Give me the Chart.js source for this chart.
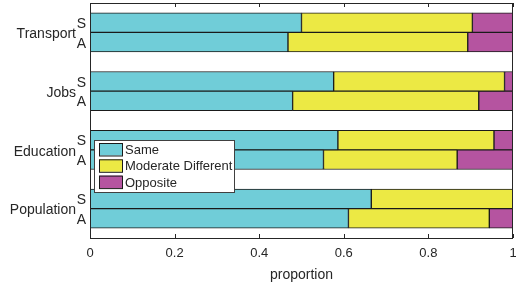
<!DOCTYPE html>
<html>
<head>
<meta charset="utf-8">
<script src="https://cdn.jsdelivr.net/npm/chart.js@4.4.0/dist/chart.umd.min.js"></script>
<style>
  html, body { margin: 0; padding: 0; background: #fff; }
  canvas { display: block; }
</style>
</head>
<body>
<canvas id="myChart" width="516" height="284"></canvas>
<script>
// rows top to bottom, a blank row between groups
var groups = ['Transport', 'Jobs', 'Education', 'Population'];
var rowLabels = ['S', 'A', '', 'S', 'A', '', 'S', 'A', '', 'S', 'A'];
var same     = [0.500, 0.468, null, 0.576, 0.479, null, 0.586, 0.552, null, 0.665, 0.611];
var moderate = [0.404, 0.425, null, 0.404, 0.440, null, 0.369, 0.316, null, 0.335, 0.333];
var opposite = [0.096, 0.107, null, 0.020, 0.081, null, 0.045, 0.132, null, 0.000, 0.056];
var seriesNames = ['Same', 'Moderate Different', 'Opposite'];
var xTicks = [0, 0.2, 0.4, 0.6, 0.8, 1];

var colors = ['rgb(112,205,216)', 'rgb(236,233,68)', 'rgb(181,84,160)'];
var textColor = '#262626';
var font = 'Liberation Sans, Arial, Helvetica, sans-serif';

function plot() {
    const ctx = document.getElementById('myChart').getContext('2d');
    const values = [same, moderate, opposite];
    // half a row of space above and below, as in the matlab axes
    const labels = [''].concat(rowLabels, ['']);
    const data = {
        labels: labels,
        datasets: seriesNames.map(function (name, i) {
            return {
                label: name,
                data: [null].concat(values[i], [null]),
                backgroundColor: colors[i],
                borderColor: '#1a1a1a',
                borderWidth: 1,
                borderSkipped: false,
                barPercentage: 1,
                categoryPercentage: 1
            };
        })
    };

    // box, inward ticks, group names and legend, drawn like matlab does
    const axesPlugin = {
        id: 'matlabAxes',
        afterDraw: (chart) => {
            const c = chart.ctx;
            const a = chart.chartArea;
            const xs = chart.scales.x;
            const ys = chart.scales.y;
            c.save();
            c.strokeStyle = '#262626';
            c.lineWidth = 1;
            c.strokeRect(Math.round(a.left) + 0.5, Math.round(a.top) + 0.5,
                Math.round(a.right - a.left) - 1, Math.round(a.bottom - a.top));
            c.beginPath();
            xTicks.forEach(function (t) {
                const px = Math.round(xs.getPixelForValue(t)) + 0.5;
                c.moveTo(px, a.bottom);
                c.lineTo(px, a.bottom - 4);
                c.moveTo(px, a.top);
                c.lineTo(px, a.top + 4);
            });
            c.stroke();

            // group names between S and A
            c.fillStyle = textColor;
            c.font = '14px ' + font;
            c.textAlign = 'right';
            c.textBaseline = 'middle';
            groups.forEach(function (g, i) {
                const y = (ys.getPixelForValue(i * 3 + 1) + ys.getPixelForValue(i * 3 + 2)) / 2;
                c.fillText(g, 76, y + 2);
            });

            // legend box
            const lx = 94, ly = 140, lw = 140, lh = 52;
            c.fillStyle = '#fff';
            c.fillRect(lx, ly, lw, lh);
            c.strokeStyle = '#404040';
            c.strokeRect(lx + 0.5, ly + 0.5, lw, lh);
            c.font = '13px ' + font;
            c.textAlign = 'left';
            seriesNames.forEach(function (name, i) {
                const ry = ly + 3 + i * 16.3;
                c.fillStyle = colors[i];
                c.fillRect(99, ry, 23, 12.5);
                c.strokeStyle = '#1a1a1a';
                c.strokeRect(99.5, ry + 0.5, 23, 12.5);
                c.fillStyle = textColor;
                c.fillText(name, 125, ry + 7.5);
            });
            c.restore();
        }
    };

    const config = {
        type: 'bar',
        data: data,
        options: {
            indexAxis: 'y',
            responsive: false,
            animation: false,
            layout: { padding: { top: 3, right: 3, left: 0, bottom: 0 } },
            plugins: {
                legend: { display: false },
                tooltip: { enabled: false }
            },
            scales: {
                x: {
                    type: 'linear',
                    stacked: true,
                    min: 0,
                    max: 1,
                    afterBuildTicks: function (axis) {
                        axis.ticks = xTicks.map(function (v) { return { value: v }; });
                    },
                    grid: { display: false, drawTicks: false },
                    border: { display: false },
                    ticks: {
                        color: textColor,
                        font: { family: font, size: 13 },
                        padding: 8,
                        maxRotation: 0,
                        callback: function (v) { return String(+Number(v).toFixed(1)); }
                    },
                    title: {
                        display: true,
                        text: 'proportion',
                        color: textColor,
                        font: { family: font, size: 14 },
                        padding: { top: 1, bottom: 0 }
                    },
                    afterFit: function (axis) {
                        axis.height = 46;
                        axis.paddingLeft = 0;
                        axis.paddingRight = 0;
                    }
                },
                y: {
                    type: 'category',
                    stacked: true,
                    offset: false,
                    grid: { display: false, drawTicks: false },
                    border: { display: false },
                    ticks: {
                        color: textColor,
                        font: { family: font, size: 14 },
                        padding: 4,
                        labelOffset: 1.5,
                        autoSkip: false
                    },
                    afterFit: function (axis) {
                        axis.width = 90;
                        axis.paddingTop = 0;
                        axis.paddingBottom = 0;
                    }
                }
            }
        },
        plugins: [axesPlugin]
    };

    if (typeof plot.myChart === 'undefined' || plot.myChart === null) {
        plot.myChart = new Chart(ctx, config);
    } else {
        plot.myChart.destroy();
        plot.myChart = new Chart(ctx, config);
    }
}

plot();
</script>
</body>
</html>
